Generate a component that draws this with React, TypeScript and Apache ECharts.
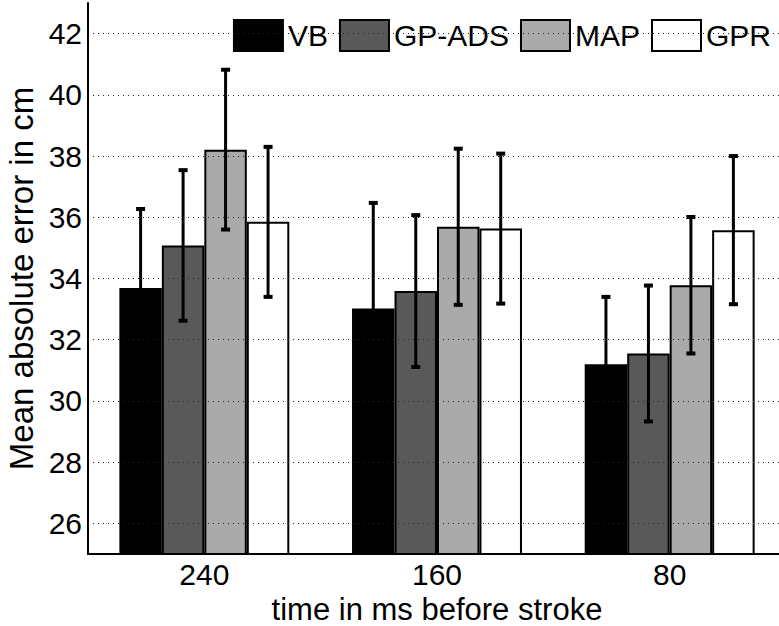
import React, { useEffect, useRef } from "react";
import * as echarts from "echarts";

const categories = ["240", "160", "80"];
const seriesNames = ["VB", "GP-ADS", "MAP", "GPR"];
const vbMean = [33.69, 33.02, 31.2];
const gpadsMean = [35.08, 33.59, 31.55];
const mapMean = [38.21, 35.69, 33.78];
const gprMean = [35.85, 35.63, 35.58];
const vbErr = [2.58, 3.45, 2.2];
const gpadsErr = [2.46, 2.48, 2.22];
const mapErr = [2.61, 2.55, 2.23];
const gprErr = [2.45, 2.45, 2.42];
const yTicks = [26, 28, 30, 32, 34, 36, 38, 40, 42];

const colors = ["#000000", "#595959", "#aaaaaa", "#ffffff"];
const BAR_FRAC = 0.1826;
const FONT = '"Liberation Sans", Arial, Helvetica, sans-serif';

export default function App() {
  const ref = useRef<HTMLDivElement>(null);
  useEffect(() => {
    if (!ref.current) return;
    const chart = echarts.init(ref.current, undefined, { renderer: "svg" });
    const means = [vbMean, gpadsMean, mapMean, gprMean];
    const errs = [vbErr, gpadsErr, mapErr, gprErr];
    const errData: number[][] = [];
    means.forEach((m, si) => {
      m.forEach((v, ci) => {
        errData.push([ci, si, v, errs[si][ci]]);
      });
    });
    const barSeries = seriesNames.map((name, si) => ({
      name,
      type: "bar",
      data: means[si],
      barWidth: (BAR_FRAC * 100).toFixed(2) + "%",
      barGap: "0%",
      itemStyle: { color: colors[si], borderColor: "#000", borderWidth: 2 },
      z: 2,
    }));
    chart.setOption({
      animation: false,
      textStyle: { fontFamily: FONT },
      grid: { left: 88, right: 14, top: 3, bottom: 72, containLabel: false, outerBoundsMode: "none" },
      legend: {
        data: seriesNames,
        right: 24,
        top: 14,
        itemWidth: 49,
        itemHeight: 31,
        itemGap: 11,
        icon: "rect",
        textStyle: { fontSize: 30, color: "#000", fontFamily: FONT },
      },
      xAxis: {
        type: "category",
        data: categories,
        z: 10,
        axisLine: { show: true, lineStyle: { color: "#000", width: 2 } },
        axisTick: { show: false },
        axisLabel: { fontSize: 30, color: "#000", margin: 5, fontFamily: FONT },
        name: "time in ms before stroke",
        nameLocation: "middle",
        nameGap: 33,
        nameTextStyle: { fontSize: 31, color: "#000", fontFamily: FONT },
      },
      yAxis: {
        type: "value",
        min: 25,
        max: 43,
        z: 10,
        axisLine: { show: true, lineStyle: { color: "#000", width: 2 } },
        axisTick: { show: false, customValues: yTicks },
        axisLabel: { fontSize: 30, color: "#000", margin: 6, customValues: yTicks, fontFamily: FONT },
        splitLine: { show: true, lineStyle: { color: "#222", width: 1, type: [1, 4] } },
        name: "Mean absolute error in cm",
        nameLocation: "middle",
        nameGap: 50,
        nameTextStyle: { fontSize: 33, color: "#000", fontFamily: FONT },
      },
      series: [
        ...barSeries,
        {
          type: "custom",
          z: 5,
          data: errData,
          renderItem: (params: any, api: any) => {
            const cat = api.value(0);
            const si = api.value(1);
            const mean = api.value(2);
            const err = api.value(3);
            const band = api.size([1, 0])[0];
            const bw = band * BAR_FRAC;
            const top = api.coord([cat, mean + err]);
            const bot = api.coord([cat, mean - err]);
            const x = top[0] + (si - 1.5) * bw;
            const cap = 4.5;
            return {
              type: "group",
              children: [
                { type: "line", shape: { x1: x, y1: top[1], x2: x, y2: bot[1] }, style: { stroke: "#000", lineWidth: 3 } },
                { type: "line", shape: { x1: x - cap, y1: top[1], x2: x + cap, y2: top[1] }, style: { stroke: "#000", lineWidth: 4 } },
                { type: "line", shape: { x1: x - cap, y1: bot[1], x2: x + cap, y2: bot[1] }, style: { stroke: "#000", lineWidth: 4 } },
              ],
            };
          },
        },
      ],
    } as any);
    return () => chart.dispose();
  }, []);
  return (
    <div style={{ position: "fixed", left: 0, top: 0, width: 779, height: 626, overflow: "hidden", background: "#fff" }}>
      <div ref={ref} style={{ width: 800, height: 626 }} />
    </div>
  );
}
